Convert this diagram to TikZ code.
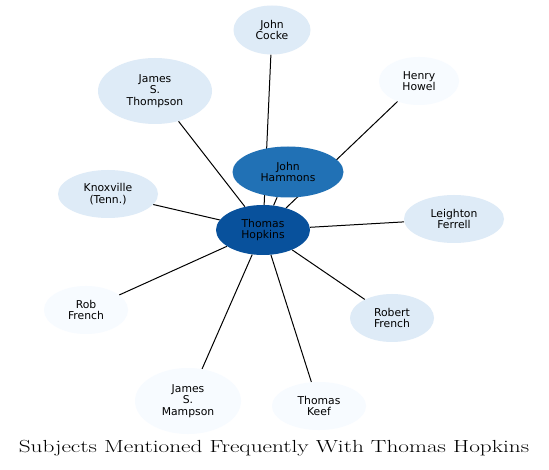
\documentclass[tikz,border=0pt]{standalone}
\usepackage{fontspec}
\newfontfamily\labelfont{DejaVu Sans}
\usetikzlibrary{shapes.geometric,backgrounds}
\definecolor{lightblue}{HTML}{DEEBF7}
\definecolor{paleblue}{HTML}{F7FBFF}
\definecolor{midblue}{HTML}{2171B5}
\definecolor{darkblue}{HTML}{08519C}
\begin{document}
\begin{tikzpicture}[x=1pt, y=-1pt,
    subject/.style={ellipse, draw=none, inner sep=0pt, align=center,
        font=\labelfont\fontsize{10.8}{11.5}\selectfont},
    pale/.style={subject, fill=paleblue},
    light/.style={subject, fill=lightblue},
    link/.style={line width=1pt}]
    \path[use as bounding box] (0,0) rectangle (549,470);
    \node[light, minimum width=77, minimum height=49] (cocke) at (272,30) {John\\Cocke};
    \node[pale, minimum width=80, minimum height=48] (howel) at (419,81) {Henry\\Howel};
    \node[light, minimum width=114, minimum height=66] (thompson) at (155,91) {James\\S.\\Thompson};
    \node[subject, fill=midblue, minimum width=111, minimum height=51] (hammons) at (288,172) {John\\Hammons};
    \node[light, minimum width=100, minimum height=48] (knoxville) at (108,194) {Knoxville\\(Tenn.)};
    \node[subject, fill=darkblue, minimum width=94, minimum height=50] (hopkins) at (263,230) {Thomas\\Hopkins};
    \node[light, minimum width=100, minimum height=48] (ferrell) at (454,219) {Leighton\\Ferrell};
    \node[pale, minimum width=84, minimum height=48] (rob) at (86,310) {Rob\\French};
    \node[light, minimum width=84, minimum height=48] (robert) at (392,318) {Robert\\French};
    \node[pale, minimum width=106, minimum height=66] (mampson) at (188,401) {James\\S.\\Mampson};
    \node[pale, minimum width=94, minimum height=48] (keef) at (319,406) {Thomas\\Keef};

    \begin{scope}[on background layer]
    \fill[white] (0,0) rectangle (549,470);
    \draw[link] (hopkins) -- (cocke);
    \draw[link] (hopkins) -- (howel);
    \draw[link] (hopkins) -- (thompson);
    \draw[link] (hopkins) -- (hammons);
    \draw[link] (hopkins) -- (knoxville);
    \draw[link] (hopkins) -- (ferrell);
    \draw[link] (hopkins) -- (rob);
    \draw[link] (hopkins) -- (robert);
    \draw[link] (hopkins) -- (mampson);
    \draw[link] (hopkins) -- (keef);
    \end{scope}

    \node[font=\fontsize{17.5}{20}\selectfont] (title) at (274,448)
        {\scalebox{1.33}[1]{Subjects Mentioned Frequently With Thomas Hopkins}};
    \end{tikzpicture}
\end{document}
